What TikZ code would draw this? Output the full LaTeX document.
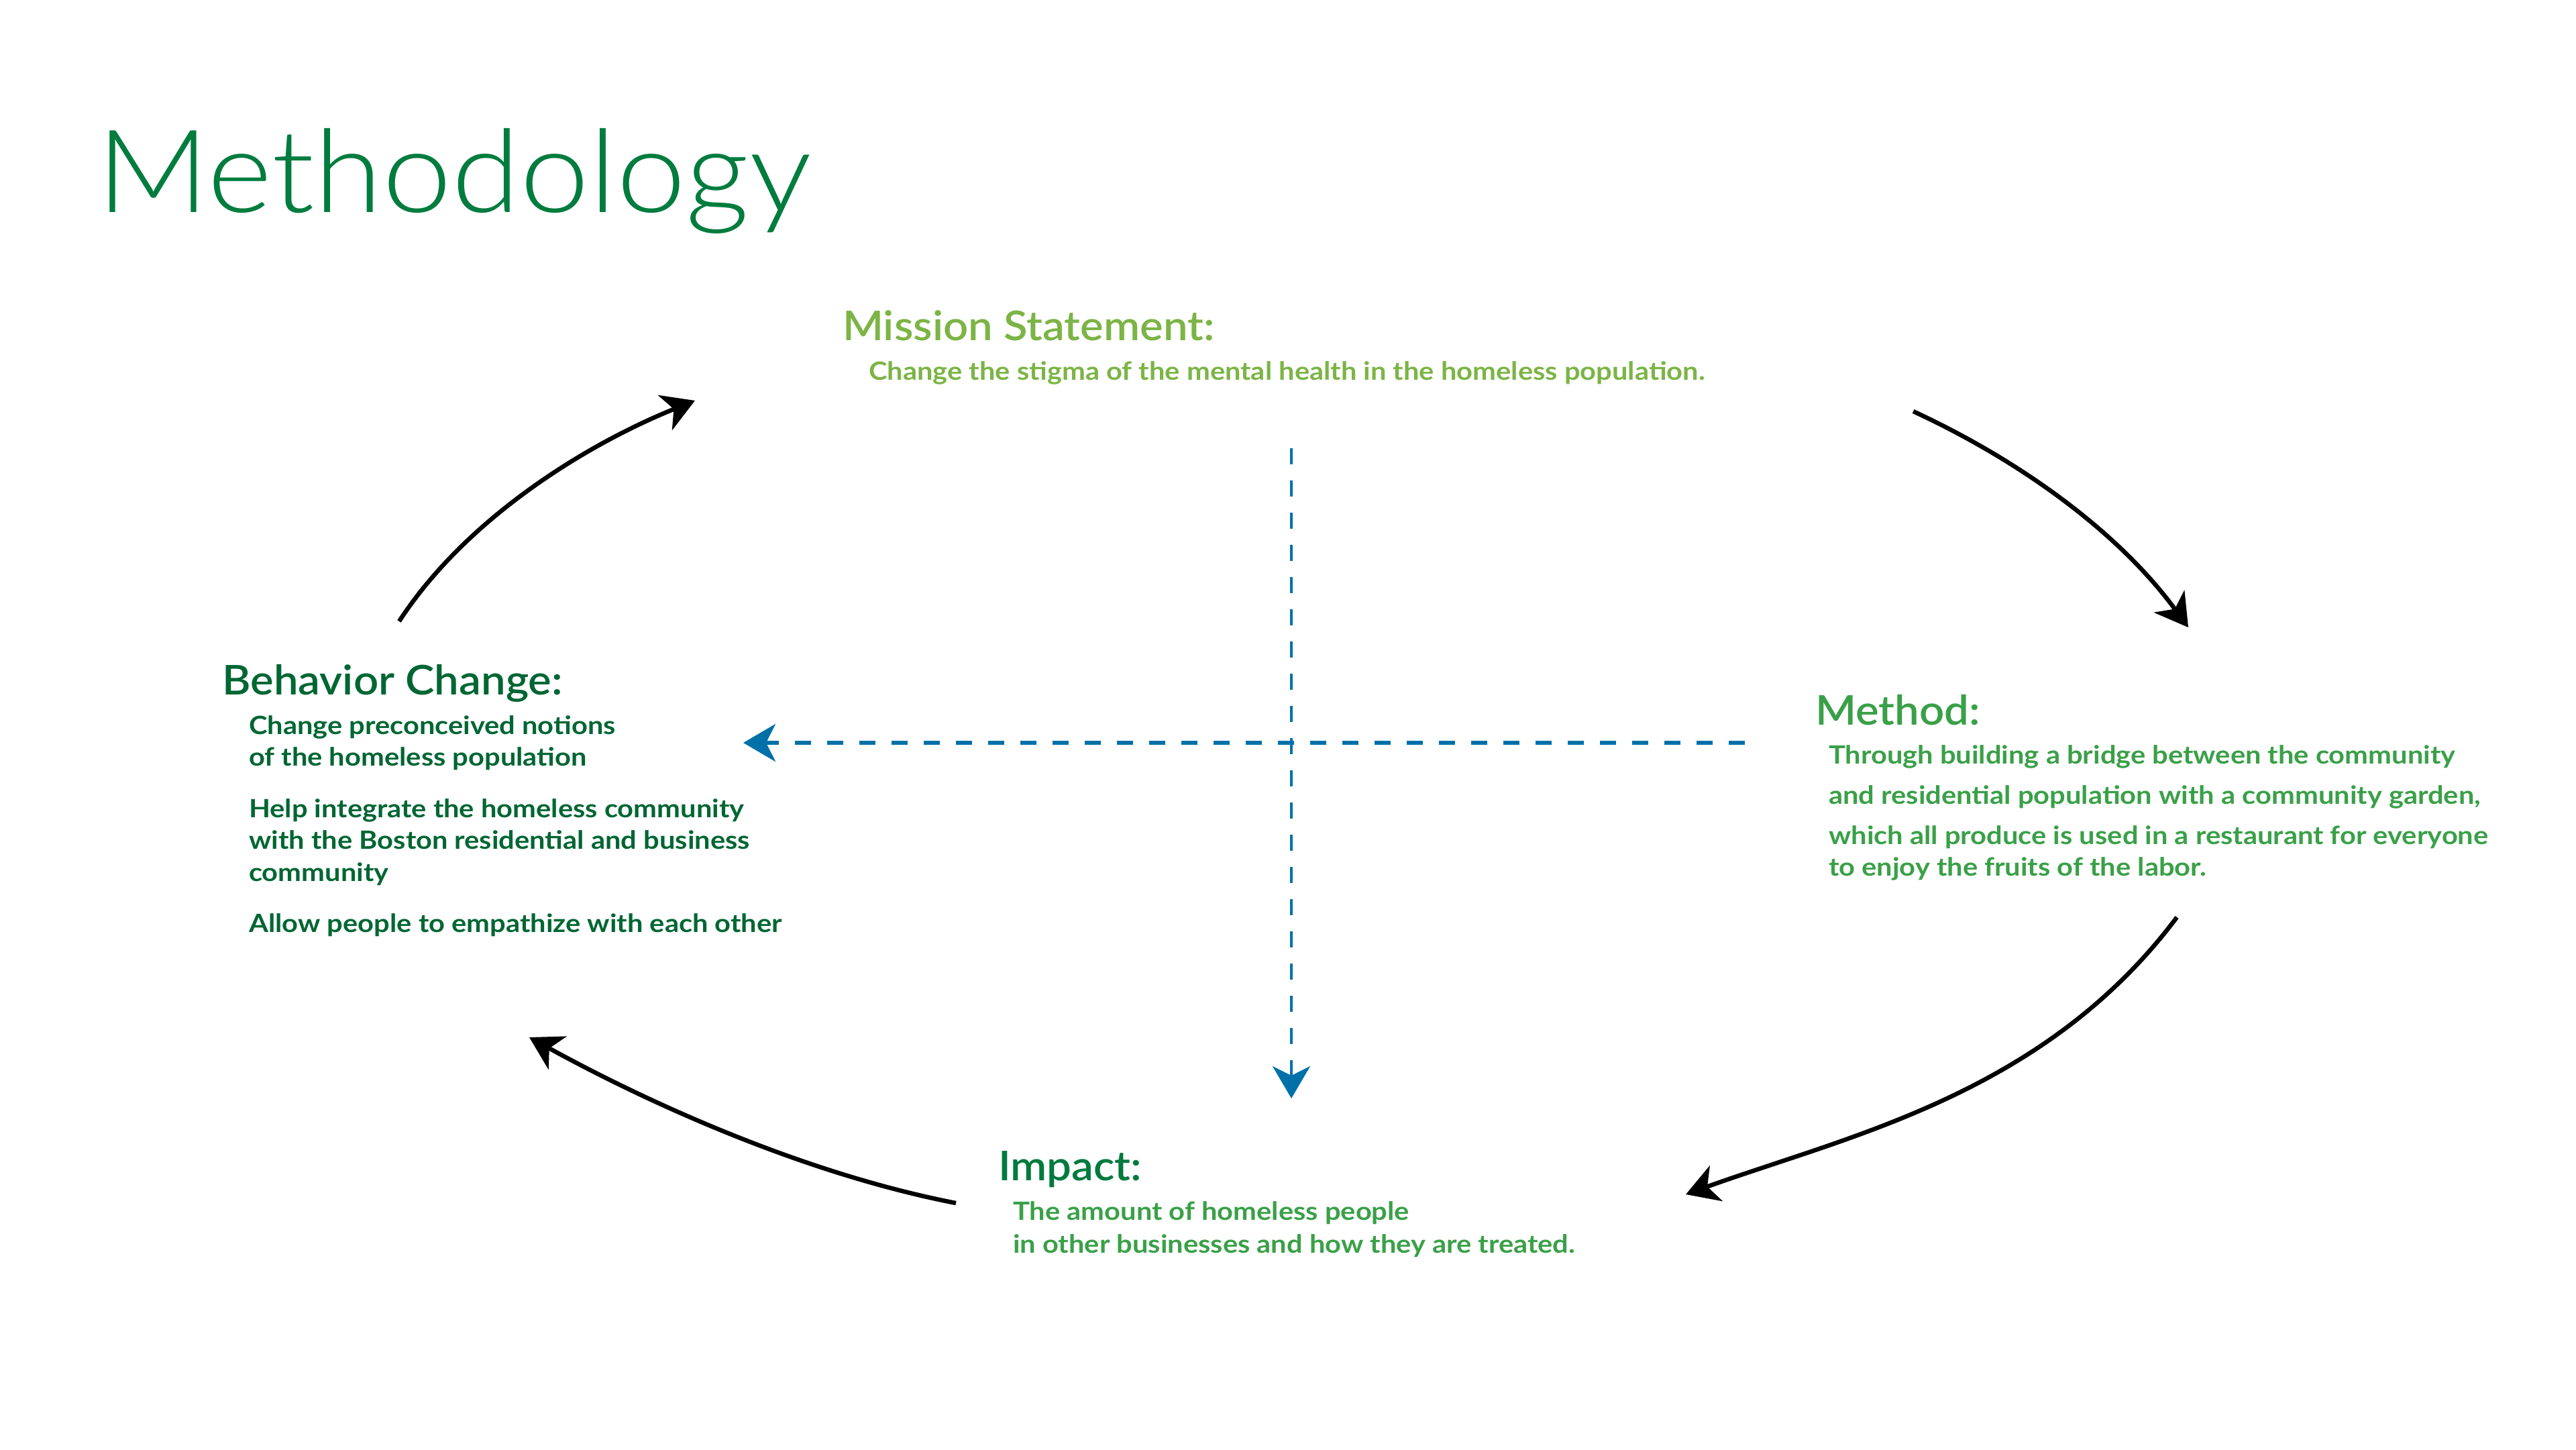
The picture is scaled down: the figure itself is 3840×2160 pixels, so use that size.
\documentclass[tikz,border=0pt]{standalone}
\usepackage{fontspec}
\usetikzlibrary{arrows.meta}
\IfFontExistsTF{Lato Light}{\newfontfamily\titlefont{Lato Light}[FakeStretch=1.075]}{\newfontfamily\titlefont{Lato}[FakeStretch=1.075]}
\IfFontExistsTF{Lato Semibold}{\newfontfamily\demifont{Lato Semibold}[FakeStretch=1.07]}{\newfontfamily\demifont{Lato}[UprightFont=*-Bold,FakeStretch=1.07]}
\newfontfamily\bodyfam{Lato}[FakeStretch=1.11]
\definecolor{titlegreen}{RGB}{0,124,62}
\definecolor{missiongreen}{RGB}{124,180,70}
\definecolor{behaviorgreen}{RGB}{0,102,51}
\definecolor{methodgreen}{RGB}{58,160,72}
\definecolor{impactgreen}{RGB}{0,122,62}
\definecolor{flowblue}{RGB}{0,112,168}
\tikzset{
  txt/.style={inner sep=0pt, anchor=base west},
  titletxt/.style={txt, font=\titlefont\fontsize{172}{172}\selectfont, text=titlegreen},
  headtxt/.style={txt, font=\demifont\fontsize{61}{61}\selectfont},
  bodytxt/.style={txt, font=\bodyfam\bfseries\fontsize{37.5}{37.5}\selectfont},
  loopArrow/.style={line width=6.5pt, draw=black, -{Stealth[length=48pt,width=56pt,inset=14pt]}},
  flowArrow/.style={line width=5pt, draw=flowblue, dash pattern=on 24pt off 24pt, -{Stealth[length=48pt,width=56pt,inset=14pt]}}
}
\begin{document}
\begin{tikzpicture}[x=1pt,y=-1pt]
\useasboundingbox (0,0) rectangle (3840,2160);
\fill[white] (0,0) rectangle (3840,2160);

\node[titletxt] (title) at (144,316) {Methodology};

\node[headtxt, text=missiongreen] (missionhead) at (1256,507) {Mission Statement:};
\node[bodytxt, text=missiongreen] (missionbody) at (1295,566) {Change the stigma of the mental health in the homeless population.};

\node[headtxt, text=behaviorgreen] (behaviorhead) at (331,1035) {Behavior Change:};
\node[bodytxt, text=behaviorgreen] (beh1) at (371,1094) {Change preconceived notions};
\node[bodytxt, text=behaviorgreen] (beh2) at (371,1141) {of the homeless population};
\node[bodytxt, text=behaviorgreen] (beh3) at (371,1218) {Help integrate the homeless community};
\node[bodytxt, text=behaviorgreen] (beh4) at (371,1265) {with the Boston residential and business};
\node[bodytxt, text=behaviorgreen] (beh5) at (371,1313) {community};
\node[bodytxt, text=behaviorgreen] (beh6) at (371,1389) {Allow people to empathize with each other};

\node[headtxt, text=methodgreen] (methodhead) at (2706,1080) {Method:};
\node[bodytxt, text=methodgreen] (met1) at (2726,1138) {Through building a bridge between the community};
\node[bodytxt, text=methodgreen] (met2) at (2726,1198) {and residential population with a community garden,};
\node[bodytxt, text=methodgreen] (met3) at (2726,1258) {which all produce is used in a restaurant for everyone};
\node[bodytxt, text=methodgreen] (met4) at (2726,1305) {to enjoy the fruits of the labor.};

\node[headtxt, text=impactgreen] (impacthead) at (1488,1759) {Impact:};
\node[bodytxt, text=methodgreen] (imp1) at (1510,1818) {The amount of homeless people};
\node[bodytxt, text=methodgreen] (imp2) at (1510,1867) {in other businesses and how they are treated.};

% cycle arrows
\coordinate (a1s) at (595,926);   \coordinate (a1e) at (1036,597);
\coordinate (a2s) at (2852,613);  \coordinate (a2e) at (3262,935);
\coordinate (a3s) at (3245,1367); \coordinate (a3e) at (2513,1780);
\coordinate (a4s) at (1425,1793); \coordinate (a4e) at (789,1546);
\draw[loopArrow] (a1s) .. controls (693,775) and (870,664) .. (a1e);
\draw[loopArrow] (a2s) .. controls (3012,687) and (3158,793) .. (a2e);
\draw[loopArrow] (a3s) .. controls (3047,1631) and (2757,1692) .. (a3e);
\draw[loopArrow] (a4s) .. controls (1209,1751) and (982,1652) .. (a4e);

% dashed blue arrows
\coordinate (hs) at (2601,1107); \coordinate (he) at (1108,1107);
\coordinate (vs) at (1925,668);  \coordinate (ve) at (1925,1637);
\draw[flowArrow, line width=6pt] (hs) -- (he);
\draw[flowArrow, line width=4pt] (vs) -- (ve);
\end{tikzpicture}
\end{document}
